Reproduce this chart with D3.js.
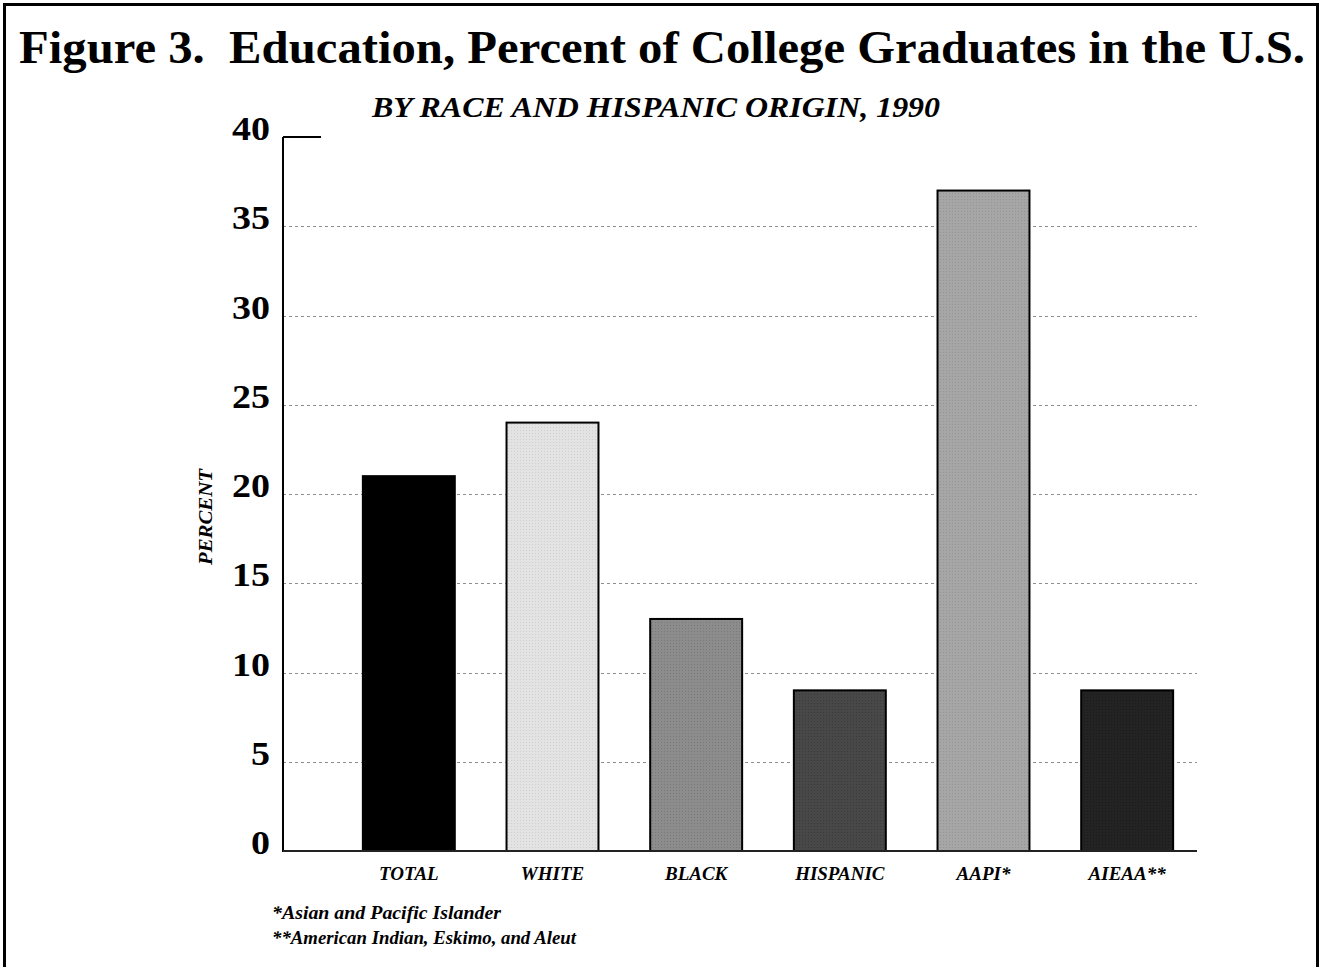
<!DOCTYPE html>
<html>
<head>
<meta charset="utf-8">
<script src="https://cdn.jsdelivr.net/npm/d3@7"></script>
<style>
  html, body { margin: 0; padding: 0; background: #fff; }
  svg { display: block; }
  text { font-family: "Liberation Serif", "Times New Roman", Times, serif; }
</style>
</head>
<body>
<svg id="chart" width="1320" height="967"></svg>
<script>
// Data
const categories = ["TOTAL", "WHITE", "BLACK", "HISPANIC", "AAPI*", "AIEAA**"];
const percents   = [21, 24, 13, 9, 37, 9];
const barFills   = ["#000000", "#e3e3e3", "#8c8c8c", "#484848", "#a6a6a6", "#232323"];
const dotFills   = ["#000000", "#cfcfcf", "#7a7a7a", "#3a3a3a", "#959595", "#1a1a1a"];
const yTicks     = [0, 5, 10, 15, 20, 25, 30, 35, 40];
const footnotes  = ["*Asian and Pacific Islander", "**American Indian, Eskimo, and Aleut"];
const footWidths = [229, 304];

const svg = d3.select("#chart");

// Fine dotted textures for the bar fills
const defs = svg.append("defs");
barFills.forEach((c, i) => {
  const p = defs.append("pattern")
    .attr("id", "tex" + i)
    .attr("patternUnits", "userSpaceOnUse")
    .attr("width", 3).attr("height", 3);
  p.append("rect").attr("width", 3).attr("height", 3).attr("fill", c);
  p.append("rect").attr("x", 1).attr("y", 1).attr("width", 1).attr("height", 1).attr("fill", dotFills[i]);
});

// Outer frame
svg.append("rect")
  .attr("x", 4.5).attr("y", 4.5)
  .attr("width", 1313).attr("height", 980)
  .attr("fill", "none").attr("stroke", "#000").attr("stroke-width", 3);

// Plot geometry
const axisX = 283, plotRight = 1197;
const y = d3.scaleLinear().domain([0, 40]).range([851, 137]);
const x = d3.scaleBand().domain(categories).range([337, 1199])
  .paddingInner(0.36).paddingOuter(0.18);

// Titles
svg.append("text")
  .attr("x", 662).attr("y", 63)
  .attr("text-anchor", "middle")
  .attr("font-weight", "bold").attr("font-size", 47)
  .attr("xml:space", "preserve")
  .attr("textLength", 1286).attr("lengthAdjust", "spacingAndGlyphs")
  .text("Figure 3.  Education, Percent of College Graduates in the U.S.");

svg.append("text")
  .attr("x", 656).attr("y", 117)
  .attr("text-anchor", "middle")
  .attr("font-weight", "bold").attr("font-style", "italic")
  .attr("font-size", 29)
  .attr("textLength", 568).attr("lengthAdjust", "spacingAndGlyphs")
  .text("BY RACE AND HISPANIC ORIGIN, 1990");

// Dashed gridlines
svg.append("g")
  .selectAll("line")
  .data(yTicks.filter(t => t > 0 && t < 40))
  .join("line")
  .attr("x1", axisX).attr("x2", plotRight)
  .attr("y1", d => Math.round(y(d)) + 0.5).attr("y2", d => Math.round(y(d)) + 0.5)
  .attr("stroke", "#8e8e8e").attr("stroke-width", 1.2)
  .attr("stroke-dasharray", "3,3");

// Top tick at 40
svg.append("line")
  .attr("x1", axisX).attr("x2", 321)
  .attr("y1", y(40)).attr("y2", y(40))
  .attr("stroke", "#000").attr("stroke-width", 2);

// Bars
svg.append("g")
  .selectAll("rect")
  .data(categories)
  .join("rect")
  .attr("x", d => x(d))
  .attr("y", (d, i) => y(percents[i]))
  .attr("width", x.bandwidth())
  .attr("height", (d, i) => y(0) - y(percents[i]))
  .attr("fill", (d, i) => `url(#tex${i})`)
  .attr("stroke", "#000").attr("stroke-width", 2);

// Y axis line and baseline
svg.append("line")
  .attr("x1", axisX).attr("x2", axisX)
  .attr("y1", y(40)).attr("y2", y(0) + 1)
  .attr("stroke", "#000").attr("stroke-width", 2);
svg.append("line")
  .attr("x1", axisX).attr("x2", plotRight)
  .attr("y1", y(0)).attr("y2", y(0))
  .attr("stroke", "#222").attr("stroke-width", 2);

// Y tick labels (wide bold digits)
svg.append("g")
  .selectAll("text")
  .data(yTicks)
  .join("text")
  .attr("x", 270).attr("y", d => y(d) + 3)
  .attr("text-anchor", "end")
  .attr("font-weight", "bold").attr("font-size", 33)
  .attr("textLength", d => String(d).length * 19).attr("lengthAdjust", "spacingAndGlyphs")
  .text(d => d);

// Y axis title
svg.append("text")
  .attr("transform", "translate(212,517) rotate(-90)")
  .attr("text-anchor", "middle")
  .attr("font-weight", "bold").attr("font-style", "italic")
  .attr("font-size", 18)
  .attr("textLength", 96).attr("lengthAdjust", "spacingAndGlyphs")
  .text("PERCENT");

// Category labels
svg.append("g")
  .selectAll("text")
  .data(categories)
  .join("text")
  .attr("x", d => x(d) + x.bandwidth() / 2)
  .attr("y", 880)
  .attr("text-anchor", "middle")
  .attr("font-weight", "bold").attr("font-style", "italic")
  .attr("font-size", 19)
  .text(d => d);

// Footnotes
svg.append("g")
  .selectAll("text")
  .data(footnotes)
  .join("text")
  .attr("x", 272)
  .attr("y", (d, i) => 919 + i * 25)
  .attr("font-weight", "bold").attr("font-style", "italic")
  .attr("font-size", 19)
  .attr("textLength", (d, i) => footWidths[i]).attr("lengthAdjust", "spacingAndGlyphs")
  .text(d => d);
</script>
</body>
</html>
